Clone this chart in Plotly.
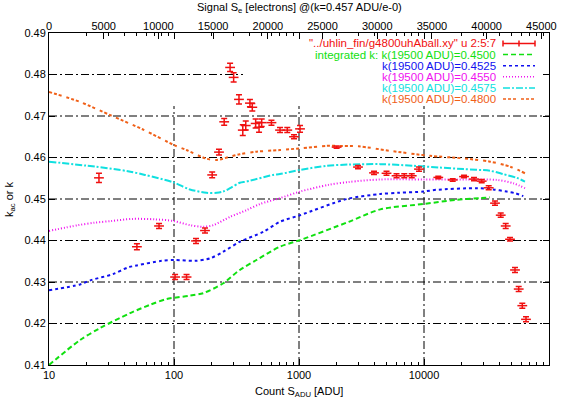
import plotly.graph_objects as go

# ---- measured data (k_ac vs count) ----
cnt = [25.1, 50.5, 75.9, 102, 126, 150, 177, 202, 229, 252, 281, 300, 331, 355, 375,
       405, 423, 450, 479, 503, 602, 705, 806, 912, 1019, 2000, 2965, 3981, 5013, 6030,
       6950, 7980, 9120, 13010, 16970, 20900, 25120, 28950, 32930, 36980, 41090, 45040,
       48750, 53460, 57230, 61150, 65460]
kac = [0.4551, 0.4385, 0.4435, 0.4312, 0.4312, 0.4399, 0.4424, 0.4558, 0.4613, 0.4686,
       0.4817, 0.4793, 0.4740, 0.4666, 0.4677, 0.4731, 0.4721, 0.4682, 0.4673, 0.4684,
       0.4684, 0.4666, 0.4666, 0.4650, 0.4669, 0.4625, 0.4577, 0.4563, 0.4562, 0.4556,
       0.4556, 0.4556, 0.4572, 0.4552, 0.4546, 0.4554, 0.4548, 0.4543, 0.4527, 0.4490,
       0.4461, 0.4435, 0.4403, 0.4329, 0.4283, 0.4243, 0.4210]
kac_err = [0.0011, 0.0007, 0.0006, 0.0006, 0.0006, 0.0006, 0.0006, 0.0007, 0.0007, 0.0008,
           0.0010, 0.0011, 0.0011, 0.0013, 0.0011, 0.0009, 0.0009, 0.0011, 0.0012, 0.0009,
           0.0006, 0.0006, 0.0006, 0.0005, 0.0008, 0.0003, 0.0004, 0.0004, 0.0005, 0.0005,
           0.0005, 0.0005, 0.0005, 0.0003, 0.0003, 0.0003, 0.0004, 0.0004, 0.0005, 0.0005,
           0.0005, 0.0006, 0.0004, 0.0006, 0.0006, 0.0006, 0.0006]

# ---- integrated k curves ----
k4500_x = [10, 17.7, 25.6, 44.5, 64.3, 87.4, 134, 171, 248, 336, 457, 703, 1019, 2500,
           4470, 9900, 18080, 28050, 33730]
k4500_y = [0.4100, 0.4160, 0.4189, 0.4225, 0.4245, 0.4259, 0.4267, 0.4273, 0.4297, 0.4329,
           0.4353, 0.4385, 0.4401, 0.4445, 0.4475, 0.4488, 0.4498, 0.4502, 0.4504]

k4525_x = [10, 17.7, 22, 32.5, 42.8, 50.4, 79.6, 102, 147, 194, 248, 336, 519, 703, 1019,
           2420, 4470, 6310, 9900, 12420, 26460, 35810, 45870, 53460, 62290]
k4525_y = [0.4280, 0.4294, 0.4305, 0.4319, 0.4335, 0.4340, 0.4351, 0.4353, 0.4351, 0.4357,
           0.4373, 0.4397, 0.4421, 0.4445, 0.4461, 0.4500, 0.4512, 0.4515, 0.4518, 0.4522,
           0.4526, 0.4523, 0.4518, 0.4514, 0.4507]

k4550_x = [10, 17.1, 23.3, 31.7, 45.8, 70.5, 98.9, 134, 171, 206, 281, 380, 488, 703, 1019,
           1720, 2500, 4470, 9900, 21830, 38160, 51820, 64270]
k4550_y = [0.4423, 0.4437, 0.4443, 0.4447, 0.4452, 0.4451, 0.4447, 0.4437, 0.4433, 0.4437,
           0.4457, 0.4473, 0.4488, 0.4502, 0.4518, 0.4534, 0.4541, 0.4547, 0.4547, 0.4547,
           0.4546, 0.4538, 0.4526]

k4575_x = [10, 23.3, 42.8, 58.5, 98.9, 134, 182, 220, 248, 281, 336, 380, 621, 703, 1019,
           1668, 2500, 4470, 8220, 13270, 20700, 33730, 43050, 55140, 64270]
k4575_y = [0.4590, 0.4578, 0.4567, 0.4558, 0.4540, 0.4523, 0.4515, 0.4515, 0.4518, 0.4526,
           0.4539, 0.4542, 0.4558, 0.4560, 0.4570, 0.4580, 0.4583, 0.4584, 0.4580, 0.4576,
           0.4572, 0.4568, 0.4560, 0.4551, 0.4542]

k4800_x = [10, 17.7, 32, 56, 100, 126, 182, 220, 281, 336, 457, 703, 1019, 1668, 2000, 3000,
           5370, 11170, 20380, 33730, 48750, 64270]
k4800_y = [0.4758, 0.4734, 0.4700, 0.4668, 0.4630, 0.4618, 0.4597, 0.4594, 0.4602, 0.4608,
           0.4614, 0.4618, 0.4622, 0.4628, 0.4628, 0.4627, 0.4616, 0.4604, 0.4598, 0.4590,
           0.4578, 0.4562]

x_ticks = [10, 100, 1000, 10000, 100000]
x2_ticks = [0, 5000, 10000, 15000, 20000, 25000, 30000, 35000, 40000, 45000]
y_ticks = [0.41, 0.42, 0.43, 0.44, 0.45, 0.46, 0.47, 0.48, 0.49]

legend_labels = ['"../uhlin_fin/g4800uhAball.xy" u 2:5:7',
                 'integrated k: k(19500 ADU)=0.4500',
                 'k(19500 ADU)=0.4525',
                 'k(19500 ADU)=0.4550',
                 'k(19500 ADU)=0.4575',
                 'k(19500 ADU)=0.4800']

RED = "#f01010"
curves = [
    (k4500_x, k4500_y, "#10e010", "5px,3px"),
    (k4525_x, k4525_y, "#1010f0", "3px,3px"),
    (k4550_x, k4550_y, "#f010f0", "1px,2px"),
    (k4575_x, k4575_y, "#10e0e0", "7px,2px,2px,2px"),
    (k4800_x, k4800_y, "#f06018", "3px,2px,3px,2px,3px,5px"),
]

FONT = "Liberation Sans, Arial, Helvetica, sans-serif"
GRID_DASH = "8px,3px,2px,3px"
# key box (fraction of plot area) that hides the grid, gnuplot style
KEY_X0, KEY_Y0 = 0.388, 0.780

fig = go.Figure()
for cx, cy, col, dash in curves:
    fig.add_trace(go.Scatter(x=cx, y=cy, mode="lines",
                             line=dict(color=col, width=2, dash=dash, shape="spline", smoothing=0.8),
                             showlegend=False, hoverinfo="skip"))

fig.add_trace(go.Scatter(x=cnt, y=kac, mode="markers",
                         marker=dict(symbol="line-ew", size=7, color=RED,
                                     line=dict(color=RED, width=1.5)),
                         error_y=dict(type="data", array=kac_err, visible=True,
                                      color=RED, thickness=1.5, width=3),
                         showlegend=False))

# invisible trace to activate the top electron axis
fig.add_trace(go.Scatter(x=[x2_ticks[0], x2_ticks[-1]], y=[0.45, 0.45], xaxis="x2",
                         mode="markers", marker=dict(opacity=0), showlegend=False,
                         hoverinfo="skip"))

shapes = []
# grid lines (interrupted by the key box)
for xv in x_ticks[1:-1]:
    shapes.append(dict(type="line", xref="x", yref="y domain", x0=xv, x1=xv, y0=0, y1=KEY_Y0,
                       line=dict(color="black", width=1, dash=GRID_DASH), layer="below"))
for yv in y_ticks[1:-1]:
    frac = (yv - y_ticks[0]) / (y_ticks[-1] - y_ticks[0])
    shapes.append(dict(type="line", xref="x domain", yref="y", x0=0,
                       x1=KEY_X0 if frac > KEY_Y0 else 1, y0=yv, y1=yv,
                       line=dict(color="black", width=1, dash=GRID_DASH), layer="below"))

# ---- manual gnuplot-style key ----
row_y = [0.9684, 0.9349, 0.9015, 0.8681, 0.8346, 0.8012]
key_cols = [RED] + [c[2] for c in curves]
key_dash = ["solid"] + [c[3] for c in curves]
annotations = []
for lab, ry, col, dsh in zip(legend_labels, row_y, key_cols, key_dash):
    annotations.append(dict(text=lab, xref="paper", yref="paper", x=0.898, y=ry,
                            xanchor="right", yanchor="middle", showarrow=False,
                            font=dict(color=col, size=11.5, family=FONT)))
    shapes.append(dict(type="line", xref="paper", yref="paper", x0=0.908, x1=0.972,
                       y0=ry, y1=ry, line=dict(color=col, width=1.5, dash=dsh)))
for tx in (0.908, 0.940, 0.972):
    shapes.append(dict(type="line", xref="paper", yref="paper", x0=tx, x1=tx,
                       y0=row_y[0] - 0.009, y1=row_y[0] + 0.009,
                       line=dict(color=RED, width=1.5)))

# axis titles
annotations += [
    dict(text="Count S<sub>ADU</sub> [ADU]", xref="paper", yref="paper", x=0.5, y=-0.055,
         xanchor="center", yanchor="top", showarrow=False, font=dict(size=11, family=FONT)),
    dict(text="Signal S<sub>e</sub> [electrons] @(k=0.457 ADU/e-0)", xref="paper", yref="paper",
         x=0.5, y=1.076, xanchor="center", yanchor="middle", showarrow=False,
         font=dict(size=11, family=FONT)),
    dict(text="k<sub>ac</sub> or k", xref="paper", yref="paper", x=-0.078, y=0.5,
         xanchor="center", yanchor="middle", textangle=-90, showarrow=False,
         font=dict(size=11, family=FONT)),
]

fig.update_layout(
    width=567, height=402,
    margin=dict(l=49, r=18, t=33, b=37, autoexpand=False),
    paper_bgcolor="white", plot_bgcolor="white",
    font=dict(family=FONT, size=11, color="black"),
    showlegend=False,
    shapes=shapes, annotations=annotations,
    xaxis=dict(type="log", range=[1, 5], tickvals=x_ticks,
               ticktext=[str(v) for v in x_ticks], automargin=False,
               ticks="inside", ticklen=6, tickcolor="black", tickwidth=1,
               showline=True, linecolor="black", linewidth=1, mirror="ticks",
               showgrid=False,
               minor=dict(ticks="inside", ticklen=3, tickcolor="black", dtick="D1",
                          showgrid=False),
               zeroline=False),
    xaxis2=dict(overlaying="x", side="top", range=[0, 45700], tickvals=x2_ticks,
                ticktext=[str(v) for v in x2_ticks], automargin=False,
                ticks="inside", ticklen=6, tickcolor="black", showgrid=False,
                zeroline=False, showline=False),
    yaxis=dict(range=[0.41, 0.49], tickvals=y_ticks,
               ticktext=["%.2f" % v for v in y_ticks], automargin=False,
               ticks="inside", ticklen=6, tickcolor="black",
               showline=True, linecolor="black", linewidth=1, mirror="ticks",
               showgrid=False, zeroline=False),
)

fig.write_html("out.html", config={"displayModeBar": False},
               post_script="document.body.style.margin='0';")
